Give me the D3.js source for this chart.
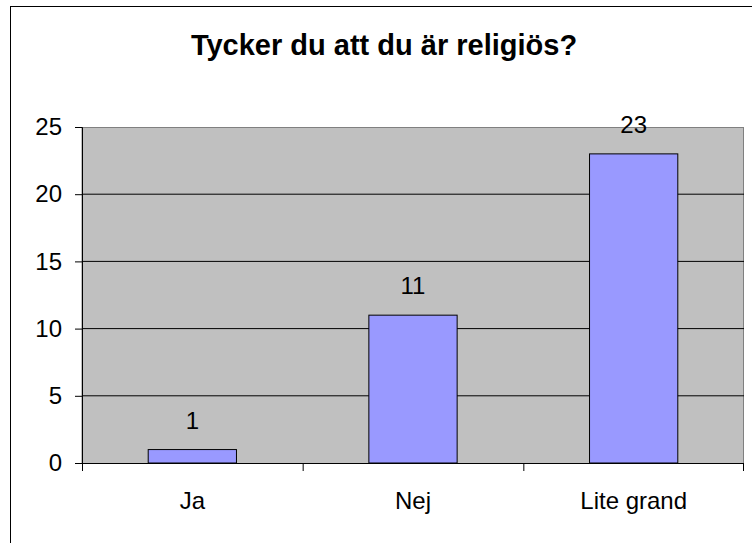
<!DOCTYPE html>
<html>
<head>
<meta charset="utf-8">
<script src="https://cdn.jsdelivr.net/npm/d3@7"></script>
<style>
  body { margin: 0; background: #fff; }
  svg text { font-family: "Liberation Sans", Arial, sans-serif; fill: #000; }
</style>
</head>
<body>
<div id="chart"></div>
<script>
// Chart values
const categories = ["Ja", "Nej", "Lite grand"];
const counts = [1, 11, 23];
const yTicks = [0, 5, 10, 15, 20, 25];
const titleText = "Tycker du att du är religiös?";

let margin = { top: 127, left: 82, right: 8, bottom: 80 },
    fullWidth = 752,
    fullHeight = 543,
    width = fullWidth - margin.left - margin.right,
    height = fullHeight - margin.top - margin.bottom;

let data = categories.map((c, i) => ({ cat: c, value: counts[i] }));

let svg = d3.select("#chart")
  .append("svg")
    .attr("width", fullWidth)
    .attr("height", fullHeight);

// outer chart border (runs off the right and bottom)
svg.append("rect")
    .attr("x", 10.5)
    .attr("y", 6.5)
    .attr("width", 760)
    .attr("height", 560)
    .attr("fill", "none")
    .attr("stroke", "#000");

// title
svg.append("text")
    .attr("x", 384)
    .attr("y", 55)
    .attr("text-anchor", "middle")
    .style("font-size", "29px")
    .style("font-weight", "bold")
    .text(titleText);

let g = svg.append("g")
    .attr("transform", "translate(" + margin.left + "," + margin.top + ")");

// scales
let xScale = d3.scaleBand()
    .domain(categories)
    .range([0, width])
    .paddingInner(0)
    .paddingOuter(0);

let yScale = d3.scaleLinear()
    .domain([0, 25])
    .range([height, 0]);

// plot area
g.append("rect")
    .attr("x", 0)
    .attr("y", 0.5)
    .attr("width", width - 0.5)
    .attr("height", height)
    .attr("fill", "#c0c0c0")
    .attr("stroke", "#808080");

// gridlines
g.append("g")
  .selectAll("line")
  .data(yTicks.filter(t => t > 0 && t < 25))
  .enter().append("line")
    .attr("x1", 0)
    .attr("x2", width)
    .attr("y1", d => yScale(d))
    .attr("y2", d => yScale(d))
    .attr("stroke", "#000")
    .attr("stroke-width", 1);

// bars, 40% of each band
let barW = xScale.bandwidth() * 0.4;
g.append("g")
  .selectAll("rect")
  .data(data)
  .enter().append("rect")
    .attr("x", d => xScale(d.cat) + (xScale.bandwidth() - barW) / 2)
    .attr("y", d => yScale(d.value))
    .attr("width", barW)
    .attr("height", d => height - yScale(d.value))
    .attr("fill", "#9999ff")
    .attr("stroke", "#000")
    .attr("stroke-width", 1);

// value labels
g.append("g")
  .selectAll("text")
  .data(data)
  .enter().append("text")
    .attr("x", d => xScale(d.cat) + xScale.bandwidth() / 2)
    .attr("y", d => yScale(d.value) - 21)
    .attr("text-anchor", "middle")
    .style("font-size", "24px")
    .text(d => d.value);

// Y axis
let yAxis = g.append("g")
    .call(d3.axisLeft(yScale).tickValues(yTicks).tickSize(7).tickPadding(13));
yAxis.select(".domain").attr("stroke", "#000");
yAxis.selectAll("line").attr("stroke", "#000");
yAxis.selectAll("text").style("font-size", "24px").attr("fill", "#000");

// X axis: ticks sit between the categories
let xAxis = g.append("g")
    .attr("transform", "translate(0," + height + ")");
xAxis.append("line")
    .attr("x1", 0).attr("x2", width)
    .attr("y1", 0.5).attr("y2", 0.5)
    .attr("stroke", "#000");
xAxis.selectAll(".sep")
  .data(categories.concat([null]))
  .enter().append("line")
    .attr("class", "sep")
    .attr("x1", (d, i) => i < categories.length ? xScale(d) + 0.5 : width - 0.5)
    .attr("x2", (d, i) => i < categories.length ? xScale(d) + 0.5 : width - 0.5)
    .attr("y1", 0)
    .attr("y2", 8)
    .attr("stroke", "#000");
xAxis.selectAll(".lab")
  .data(categories)
  .enter().append("text")
    .attr("class", "lab")
    .attr("x", d => xScale(d) + xScale.bandwidth() / 2)
    .attr("y", 46)
    .attr("text-anchor", "middle")
    .style("font-size", "24px")
    .text(d => d);
</script>
</body>
</html>
